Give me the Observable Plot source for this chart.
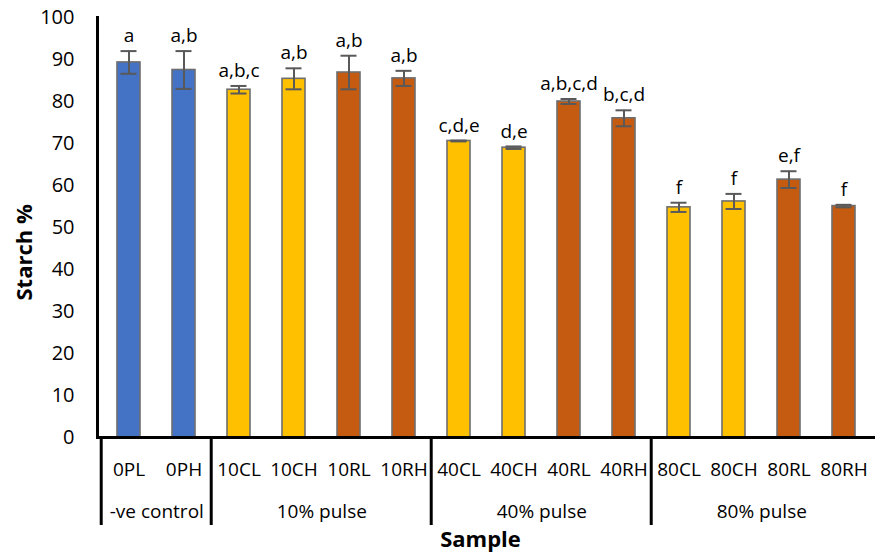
<!DOCTYPE html>
<html><head><meta charset="utf-8">
<script src="https://cdn.jsdelivr.net/npm/d3@7"></script>
<script src="https://cdn.jsdelivr.net/npm/@observablehq/plot@0.6"></script>
<style>body{margin:0;background:#fff}</style>
</head><body><div id="chart"></div>
<script>
const samples = ["0PL","0PH","10CL","10CH","10RL","10RH","40CL","40CH","40RL","40RH","80CL","80CH","80RL","80RH"];
const means   = [89.3, 87.5, 82.8, 85.4, 86.9, 85.5, 70.6, 69.0, 80.0, 76.0, 54.8, 56.2, 61.4, 55.1];
const errors  = [2.7, 4.5, 0.9, 2.5, 4.0, 1.8, 0.1, 0.3, 0.6, 1.9, 1.1, 1.8, 2.0, 0.3];
const letters = ["a","a,b","a,b,c","a,b","a,b","a,b","c,d,e","d,e","a,b,c,d","b,c,d","f","f","e,f","f"];
const groupNames = ["-ve control","10% pulse","40% pulse","80% pulse"];
const groupSizes = [2, 4, 4, 4];
const yTicks = [0,10,20,30,40,50,60,70,80,90,100];

const W = 876, H = 560, ML = 97, MR = 1, MT = 17, MB = 123;
const step = (W - ML - MR) / samples.length;
const innerH = H - MT - MB;

const colorFor = s => s.includes("P") ? "#4472C4" : s.includes("C") ? "#FFC000" : "#C55A11";
const data = samples.map((s, i) => ({sample: s, mean: means[i], err: errors[i], letter: letters[i], fill: colorFor(s)}));

const groupStarts = [], groupMids = [];
let k = 0;
groupSizes.forEach((n, g) => {
  groupStarts.push(samples[k]);
  groupMids.push({sample: samples[k + n / 2 - 1], name: groupNames[g]});
  k += n;
});

const chart = Plot.plot({
  width: W, height: H, marginLeft: ML, marginRight: MR, marginTop: MT, marginBottom: MB,
  style: {fontFamily: "'Open Sans', sans-serif", fontSize: "19px", color: "#000", background: "#fff"},
  x: {domain: samples, paddingInner: 0.59, paddingOuter: 0.295, axis: null},
  y: {domain: [0, 100], axis: null},
  marks: [
    Plot.axisY({ticks: yTicks, tickSize: 0, tickPadding: 23, fontSize: 20, label: null, tickFormat: d => String(d)}),
    Plot.axisX({tickSize: 0, tickPadding: 25, fontSize: 19, label: null}),
    Plot.barY(data, {x: "sample", y: "mean", fill: "fill", stroke: "#6e6e6e", strokeWidth: 1.6}),
    Plot.ruleX(data, {x: "sample", y1: d => d.mean - d.err, y2: d => d.mean + d.err, stroke: "#595959", strokeWidth: 2}),
    Plot.tickY(data, {x: "sample", y: d => d.mean - d.err, insetLeft: 3.5, insetRight: 3.5, stroke: "#595959", strokeWidth: 2}),
    Plot.tickY(data, {x: "sample", y: d => d.mean + d.err, insetLeft: 3.5, insetRight: 3.5, stroke: "#595959", strokeWidth: 2}),
    Plot.text(data, {x: "sample", y: d => d.mean + d.err, text: "letter", dy: -15, fontSize: 19, fill: "#000"}),
    Plot.ruleY([0], {stroke: "#000", strokeWidth: 3}),
    Plot.frame({anchor: "left", stroke: "#000", strokeWidth: 3}),
    Plot.ruleX(groupStarts, {x: d => d, dx: -step / 2, insetTop: innerH, insetBottom: -88, stroke: "#000", strokeWidth: 3}),
    Plot.text(groupMids, {x: "sample", dx: step / 2, frameAnchor: "bottom", dy: 80, text: "name", fontSize: 19, fill: "#000"}),
    Plot.text(["Sample"], {frameAnchor: "bottom", dx: -6, dy: 109, text: d => d, fontSize: 22, fontWeight: "bold", fill: "#000"}),
    Plot.text(["Starch %"], {frameAnchor: "left", rotate: -90, dx: -73, dy: 73, text: d => d, fontSize: 22, fontWeight: "bold", fill: "#000"})
  ]
});
document.getElementById("chart").appendChild(chart);
</script>
</body></html>
